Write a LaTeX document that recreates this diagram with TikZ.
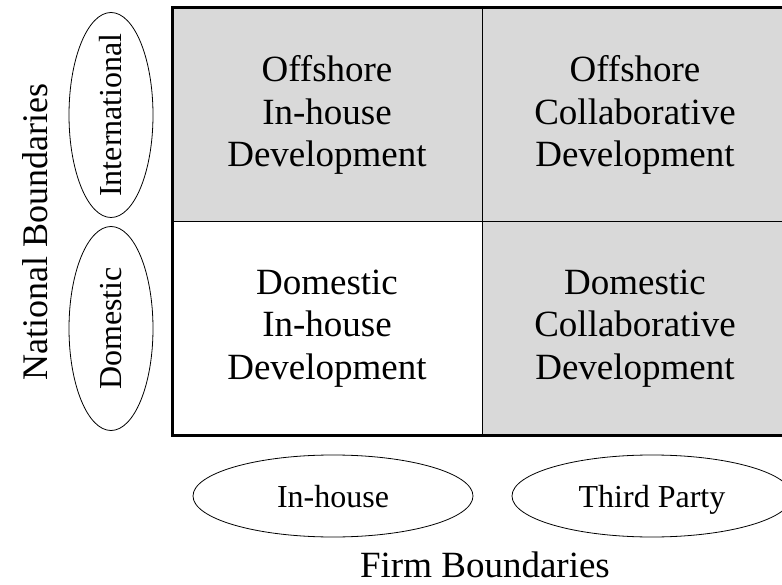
\documentclass[tikz,border=0pt]{standalone}
\usepackage{fontspec}
\setmainfont{Liberation Serif}
\usepackage{graphicx}
\usepackage{tikz}
\usetikzlibrary{shapes, positioning}
\definecolor{cellgrey}{HTML}{D9D9D9}

\begin{document}
\begin{tikzpicture}[x=1pt, y=1pt,
    cell/.style = {draw, line width = 1pt, fill = cellgrey, inner sep = 0pt, outer sep = 0pt,
      align = center, font = \fontsize{37}{42.5}\selectfont},
    bound/.style = {draw, ellipse, line width = 0.8pt, inner sep = 0pt, outer sep = 0pt,
      font = \fontsize{32}{36}\selectfont},
    firmbound/.style = {bound, minimum width = 280pt, minimum height = 82pt,
      text height = 22pt, text depth = 0pt}]
    \useasboundingbox (0,0) rectangle (782,-585);

    \node[cell, minimum width = 310pt, minimum height = 214pt] (offin) at (327,-115) {Offshore\\In-house\\Development};
    \node[cell, minimum width = 306pt, minimum height = 214pt, right = 0pt of offin] (offcol) {Offshore\\Collaborative\\Development};
    \node[cell, fill = white, minimum width = 310pt, minimum height = 213pt, below = 0pt of offin] (domin) {Domestic\\In-house\\Development};
    \node[cell, minimum width = 306pt, minimum height = 213pt, right = 0pt of domin] (domcol) {Domestic\\Collaborative\\Development};
    \draw[line width = 3pt] (offin.north west) rectangle (domcol.south east);

    \node[bound, minimum width = 84pt, minimum height = 205pt, left = 19pt of offin] (intl) {\rotatebox{90}{\makebox[0pt]{International}}};
    \node[bound, minimum width = 84pt, minimum height = 204pt, left = 19pt of domin] (dom) {\rotatebox{90}{\makebox[0pt]{Domestic}}};
    \node[font = \fontsize{36}{42}\selectfont, rotate = 90] (nat) at (35,-232) {National Boundaries};

    \node[firmbound, below = 20pt of domin, xshift = 6pt] (inhouse) {In-house};
    \node[firmbound, right = 39pt of inhouse] (third) {Third Party};
    \node[font = \fontsize{37}{42}\selectfont] (firm) at (485,-565) {Firm Boundaries};

    \end{tikzpicture}
\end{document}
